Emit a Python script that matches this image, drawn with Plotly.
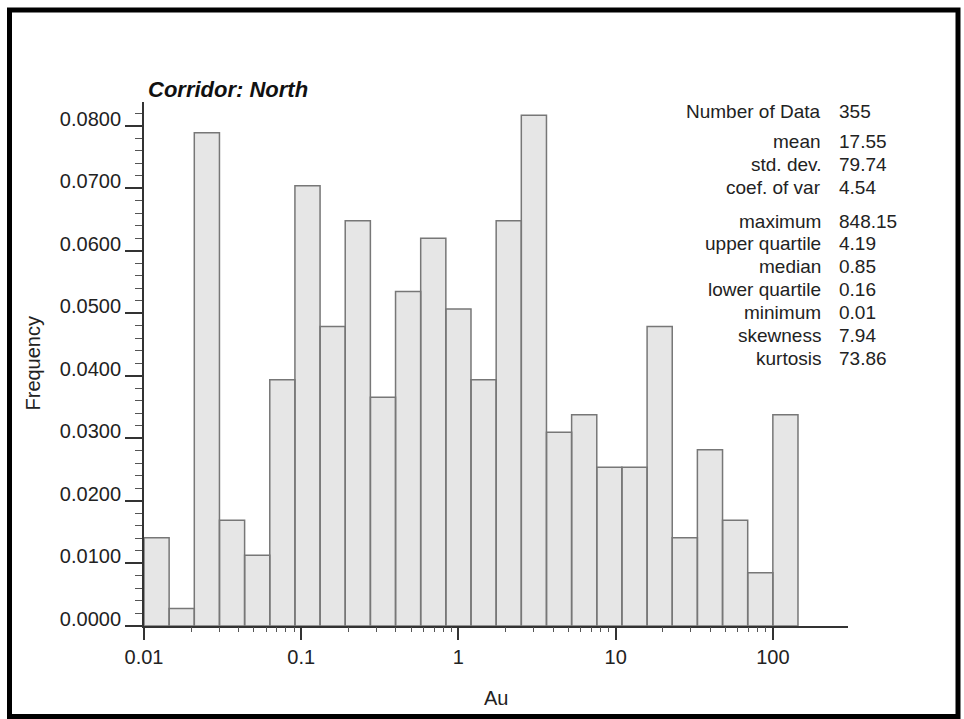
import plotly.graph_objects as go

# ---- data ----
bin_edges = [0.01, 0.01445, 0.02089, 0.03020, 0.04365, 0.06310, 0.09120, 0.1318,
             0.1905, 0.2754, 0.3981, 0.5754, 0.8318, 1.202, 1.738, 2.512, 3.631,
             5.248, 7.586, 10.96, 15.85, 22.91, 33.11, 47.86, 69.18, 100.0, 144.5]
frequency = [0.0141, 0.0028, 0.0789, 0.0169, 0.0113, 0.0394, 0.0704, 0.0479,
             0.0648, 0.0366, 0.0535, 0.0620, 0.0507, 0.0394, 0.0648, 0.0817,
             0.0310, 0.0338, 0.0254, 0.0254, 0.0479, 0.0141, 0.0282, 0.0169,
             0.0085, 0.0338]
x_tick_vals = [0.01, 0.1, 1, 10, 100]
x_tick_text = ["0.01", "0.1", "1", "10", "100"]
x_minor_vals = [0.02, 0.03, 0.04, 0.05, 0.06, 0.07, 0.08, 0.09,
                0.2, 0.3, 0.4, 0.5, 0.6, 0.7, 0.8, 0.9,
                2, 3, 4, 5, 6, 7, 8, 9,
                20, 30, 40, 50, 60, 70, 80, 90]
stat_labels = ["Number of Data", "mean", "std. dev.", "coef. of var", "maximum",
               "upper quartile", "median", "lower quartile", "minimum",
               "skewness", "kurtosis"]
stat_values = ["355", "17.55", "79.74", "4.54", "848.15", "4.19", "0.85",
               "0.16", "0.01", "7.94", "73.86"]
title_text = "Corridor: North"
x_title = "Au"
y_title = "Frequency"

# ---- layout geometry (pixels) ----
W, H = 964, 719
L, R, T, B = 144, 848, 102, 626
pw, ph = R - L, B - T
XRANGE = [-2, 2.478]

def px_x(p):
    return (p - L) / pw

def px_y(p):
    return (B - p) / ph

FONT = "Liberation Sans, Arial, Helvetica, sans-serif"
TXT = "#222222"

# bars as closed rectangles through the axes
bx, by = [], []
for i, f in enumerate(frequency):
    a, b = bin_edges[i], bin_edges[i + 1]
    bx += [a, a, b, b, a, None]
    by += [0, f, f, 0, 0, None]

fig = go.Figure()
fig.add_trace(go.Scatter(
    x=bx, y=by, mode="lines", fill="toself", fillcolor="#e6e6e6",
    line=dict(color="#777777", width=1.5), hoverinfo="skip", showlegend=False))
# invisible helper trace so the minor-tick overlay axis is drawn
fig.add_trace(go.Scatter(x=[bin_edges[0]], y=[0], xaxis="x2", mode="markers",
                         marker=dict(opacity=0), hoverinfo="skip",
                         showlegend=False))

fig.update_layout(
    width=W, height=H,
    margin=dict(l=L, r=W - R, t=T, b=H - B),
    paper_bgcolor="white", plot_bgcolor="white",
    font=dict(family=FONT, size=20, color=TXT),
    showlegend=False,
    xaxis=dict(
        type="log", range=XRANGE, showgrid=False, zeroline=False,
        showline=True, linecolor="#333333", linewidth=2,
        tickmode="array", tickvals=x_tick_vals, ticktext=x_tick_text,
        ticks="outside", ticklen=12, tickwidth=1.5, tickcolor="#333333",
        tickfont=dict(size=20, color=TXT, family=FONT),
    ),
    xaxis2=dict(
        type="log", range=XRANGE, overlaying="x", anchor="y", side="bottom",
        showgrid=False, zeroline=False, showline=False,
        tickmode="array", tickvals=x_minor_vals,
        ticktext=[""] * len(x_minor_vals),
        ticks="outside", ticklen=5, tickwidth=1, tickcolor="#555555",
    ),
    yaxis=dict(
        range=[0, 0.0838], showgrid=False, zeroline=False,
        showline=True, linecolor="#333333", linewidth=2,
        dtick=0.01, tick0=0, tickformat=".4f",
        ticks="outside", ticklen=17, tickwidth=1.5, tickcolor="#333333",
        minor=dict(ticks="outside", ticklen=7, tickwidth=1, tickcolor="#555555",
                   dtick=0.002, showgrid=False),
        tickfont=dict(size=20, color=TXT, family=FONT),
        ticklabelshift=-7,
    ),
)

ann = []
ann.append(dict(text="<b><i>" + title_text + "</i></b>", x=px_x(146), y=px_y(89),
                xref="paper", yref="paper", xanchor="left", yanchor="middle",
                showarrow=False, font=dict(size=22, color="#111111", family=FONT)))
ann.append(dict(text=y_title, x=px_x(32.5), y=px_y(363), xref="paper", yref="paper",
                textangle=-90, xanchor="center", yanchor="middle", showarrow=False,
                font=dict(size=20, color=TXT, family=FONT)))
ann.append(dict(text=x_title, x=px_x(496), y=px_y(698), xref="paper", yref="paper",
                xanchor="center", yanchor="middle", showarrow=False,
                font=dict(size=20, color=TXT, family=FONT)))

row_y = [112, 141, 164, 187, 221, 243, 266, 289, 312, 335, 358]
for lab, val, yy in zip(stat_labels, stat_values, row_y):
    ann.append(dict(text=lab, x=px_x(823), y=px_y(yy), xref="paper", yref="paper",
                    xanchor="right", yanchor="middle", showarrow=False,
                    font=dict(size=19, color=TXT, family=FONT)))
    ann.append(dict(text=val, x=px_x(837), y=px_y(yy), xref="paper", yref="paper",
                    xanchor="left", yanchor="middle", showarrow=False,
                    font=dict(size=19, color=TXT, family=FONT)))
fig.update_layout(annotations=ann)

# outer black frame
fig.add_shape(type="rect", xref="paper", yref="paper",
              x0=px_x(9.5), x1=px_x(958), y0=px_y(716.5), y1=px_y(10),
              line=dict(color="black", width=5), fillcolor="rgba(0,0,0,0)",
              layer="above")

fig.write_html("out.html", config={"displayModeBar": False},
               post_script="document.body.style.margin='0px';"
                           "document.body.style.overflow='hidden';")
